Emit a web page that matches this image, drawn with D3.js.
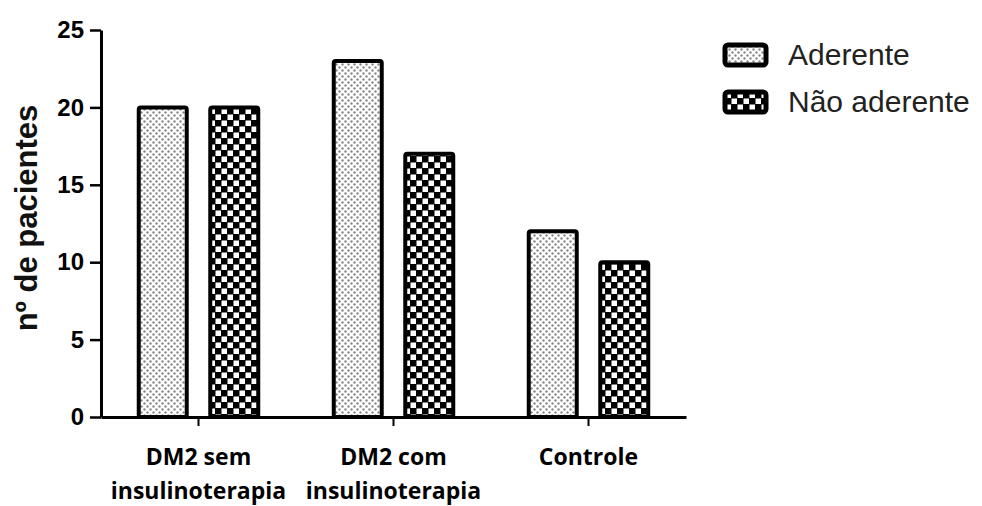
<!DOCTYPE html>
<html>
<head>
<meta charset="utf-8">
<script src="https://cdn.jsdelivr.net/npm/d3@7"></script>
<style>
  body { margin: 0; background: #fff; }
  svg { display: block; }
</style>
</head>
<body>
<svg id="chart" width="982" height="506"></svg>
<script>
// Data
const categories = ["DM2 sem insulinoterapia", "DM2 com insulinoterapia", "Controle"];
const categoryLines = [["DM2 sem", "insulinoterapia"], ["DM2 com", "insulinoterapia"], ["Controle"]];
const series = ["Aderente", "Não aderente"];
const aderente = [20, 23, 12];
const naoAderente = [20, 17, 10];
const yTicks = [0, 5, 10, 15, 20, 25];

const svg = d3.select("#chart");

// patterns
const defs = svg.append("defs");
const dots = defs.append("pattern")
    .attr("id", "dots")
    .attr("patternUnits", "userSpaceOnUse")
    .attr("width", 6).attr("height", 6);
dots.append("rect").attr("width", 6).attr("height", 6).attr("fill", "#fff");
dots.append("circle").attr("cx", 1.5).attr("cy", 1.5).attr("r", 1.2).attr("fill", "#8a8a8a");
dots.append("circle").attr("cx", 4.5).attr("cy", 4.5).attr("r", 1.2).attr("fill", "#8a8a8a");

const checks = defs.append("pattern")
    .attr("id", "checks")
    .attr("patternUnits", "userSpaceOnUse")
    .attr("width", 12).attr("height", 12);
checks.append("rect").attr("width", 12).attr("height", 12).attr("fill", "#000");
checks.append("rect").attr("x", 0.5).attr("y", 0.5).attr("width", 5.5).attr("height", 5.5).attr("fill", "#fff");
checks.append("rect").attr("x", 6.5).attr("y", 6.5).attr("width", 5.5).attr("height", 5.5).attr("fill", "#fff");

const fills = { "Aderente": "url(#dots)", "Não aderente": "url(#checks)" };

// scales
const x0 = d3.scaleBand()
    .domain(categories)
    .range([101, 686]);

const x1 = d3.scaleBand()
    .domain(series)
    .range([x0.bandwidth() / 2 - 61.75, x0.bandwidth() / 2 + 61.75])
    .paddingInner(0.273);

const y = d3.scaleLinear()
    .domain([0, 25])
    .range([417, 30]);

const rows = categories.map((c, i) => ({
    cat: c,
    values: [
        { key: series[0], value: aderente[i] },
        { key: series[1], value: naoAderente[i] }
    ]
}));

// bars
const groups = svg.selectAll(".group")
    .data(rows)
    .join("g")
    .attr("class", "group")
    .attr("transform", d => `translate(${x0(d.cat)},0)`);

groups.selectAll("rect")
    .data(d => d.values)
    .join("rect")
    .attr("x", d => x1(d.key) + 2)
    .attr("width", x1.bandwidth() - 4)
    .attr("y", d => y(d.value))
    .attr("height", d => y(0) - y(d.value))
    .attr("rx", 2)
    .attr("fill", d => fills[d.key])
    .attr("stroke", "#000")
    .attr("stroke-width", 4)
    .attr("stroke-linejoin", "round");

// y axis
const yAxis = svg.append("g")
    .attr("transform", "translate(101,0)")
    .call(d3.axisLeft(y).tickValues(yTicks).tickSize(11).tickSizeOuter(0).tickPadding(6));
yAxis.select(".domain").attr("stroke-width", 3);
yAxis.selectAll(".tick line").attr("stroke-width", 2.5);
yAxis.selectAll(".tick text")
    .attr("font-family", "Liberation Sans, Arial, sans-serif")
    .attr("font-weight", "bold")
    .attr("font-size", 24)
    .attr("fill", "#000");

// x axis
const xAxis = svg.append("g")
    .attr("transform", `translate(0,${y(0)})`)
    .call(d3.axisBottom(x0).tickSize(9).tickSizeOuter(0).tickFormat(""));
xAxis.select(".domain").attr("stroke-width", 3);
xAxis.selectAll(".tick line").attr("stroke-width", 2);

xAxis.selectAll(".tick")
    .append("text")
    .attr("fill", "#000")
    .attr("font-family", "Open Sans, sans-serif")
    .attr("font-weight", "bold")
    .attr("font-size", 23)
    .attr("text-anchor", "middle")
    .selectAll("tspan")
    .data((d, i) => categoryLines[i])
    .join("tspan")
    .attr("x", 0)
    .attr("y", (d, i) => 48 + i * 34)
    .text(d => d);

// y title
svg.append("text")
    .attr("transform", "translate(37,218) rotate(-90)")
    .attr("text-anchor", "middle")
    .attr("font-family", "Liberation Sans, Arial, sans-serif")
    .attr("font-weight", "bold")
    .attr("font-size", 31)
    .attr("fill", "#111")
    .text("nº de pacientes");

// legend
const legend = svg.selectAll(".legend")
    .data(series)
    .join("g")
    .attr("class", "legend")
    .attr("transform", (d, i) => `translate(725,${45 + i * 47})`);

legend.append("rect")
    .attr("width", 41)
    .attr("height", 20)
    .attr("rx", 3)
    .attr("fill", d => fills[d])
    .attr("stroke", "#000")
    .attr("stroke-width", 5)
    .attr("stroke-linejoin", "round");

legend.append("text")
    .attr("x", 63)
    .attr("y", 20)
    .attr("font-family", "Liberation Sans, Arial, sans-serif")
    .attr("font-size", 30)
    .attr("fill", "#222")
    .text(d => d);
</script>
</body>
</html>
